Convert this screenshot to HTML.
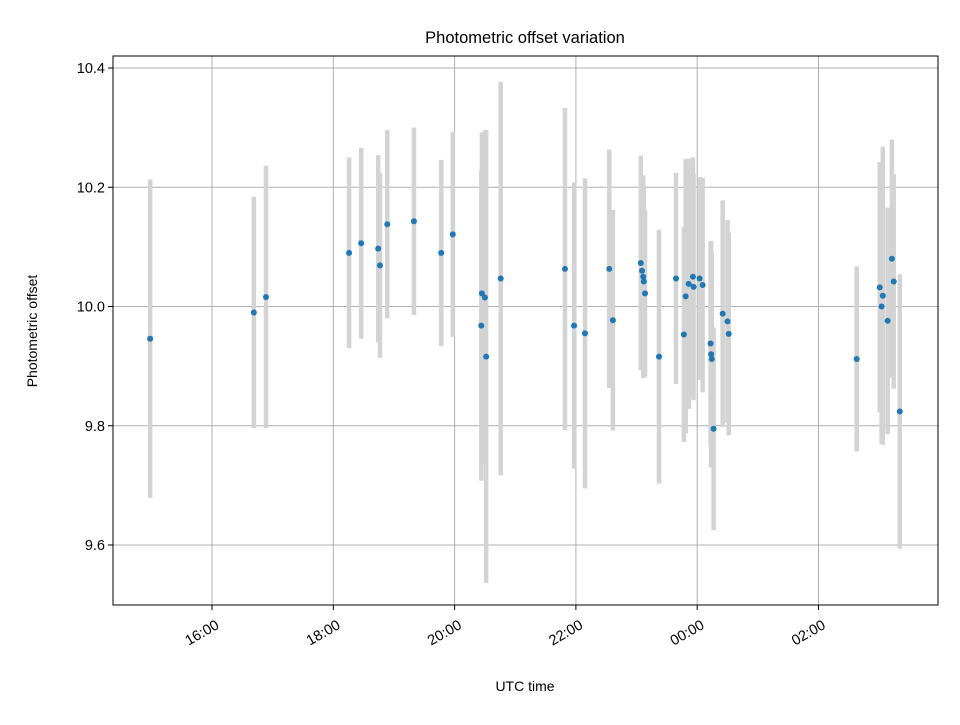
<!DOCTYPE html>
<html><head><meta charset="utf-8"><style>
body{margin:0;background:#fff}
svg text{font-family:"Liberation Sans","DejaVu Sans",sans-serif}
</style></head><body>
<svg id="chart" width="960" height="720" xmlns="http://www.w3.org/2000/svg">
<rect width="960" height="720" fill="#fff"/>
<g id="grid"></g><g id="bars"></g><g id="pts"></g><g id="axes"></g>
<text x="525" y="43" font-size="16.5" text-anchor="middle">Photometric offset variation</text>
<text x="525" y="691" font-size="14" text-anchor="middle">UTC time</text>
<text transform="translate(37,331) rotate(-90)" font-size="14" text-anchor="middle">Photometric offset</text>
</svg>
<script>
// hours (after midnight as 24+)
const times=[14.98,16.69,16.89,18.26,18.46,18.74,18.77,18.89,19.33,19.78,19.97,20.44,20.45,20.50,20.52,20.76,21.82,21.97,22.15,22.55,22.61,23.07,23.09,23.11,23.12,23.14,23.37,23.65,23.78,23.81,23.86,23.93,23.94,24.04,24.09,24.22,24.23,24.24,24.27,24.42,24.50,24.52,26.63,27.01,27.04,27.06,27.14,27.21,27.24,27.34];
const offsets=[9.946,9.99,10.016,10.09,10.106,10.097,10.069,10.138,10.143,10.09,10.121,9.968,10.022,10.015,9.916,10.047,10.063,9.968,9.955,10.063,9.977,10.073,10.06,10.05,10.042,10.022,9.916,10.047,9.953,10.017,10.038,10.05,10.033,10.047,10.036,9.938,9.92,9.912,9.795,9.988,9.975,9.954,9.912,10.032,10.0,10.018,9.976,10.08,10.042,9.824];
const errors=[0.267,0.194,0.22,0.16,0.16,0.157,0.155,0.158,0.157,0.156,0.172,0.26,0.27,0.28,0.38,0.33,0.27,0.24,0.26,0.2,0.185,0.18,0.16,0.17,0.16,0.14,0.213,0.177,0.18,0.23,0.21,0.2,0.19,0.17,0.18,0.17,0.19,0.18,0.17,0.19,0.17,0.17,0.155,0.21,0.23,0.25,0.19,0.2,0.18,0.23];
const xTicks=[16,18,20,22,24,26];
const xLabels=["16:00","18:00","20:00","22:00","00:00","02:00"];
const yTicks=[9.6,9.8,10.0,10.2,10.4];
const yLabels=["9.6","9.8","10.0","10.2","10.4"];
const L=113,R=938,T=56,B=605;
const xs=h=>212+(h-16)*60.65;
const ys=v=>306.5-(v-10)*596.25;
const NS="http://www.w3.org/2000/svg";
function mk(p,t,a){const e=document.createElementNS(NS,t);for(const k in a)e.setAttribute(k,a[k]);document.getElementById(p).appendChild(e);return e;}
xTicks.forEach((t,i)=>{const x=xs(t);
 const g=mk('grid','line',{x1:x,x2:x,y1:T,y2:B,stroke:'#b0b0b0','stroke-width':1});
 
 
 const tk=mk('axes','line',{x1:x,x2:x,y1:B,y2:B+5,stroke:'#000'});
 
 
 const ax=x+3, ay=B+14;
 const tx=mk('axes','text',{x:ax,y:ay+10,'font-size':14.5,'text-anchor':'end',transform:`rotate(-30 ${ax} ${ay})`});
 tx.textContent=xLabels[i];
 
 
});
yTicks.forEach((t,i)=>{const y=ys(t);
 const g=mk('grid','line',{x1:L,x2:R,y1:y,y2:y,stroke:'#b0b0b0','stroke-width':1});
 
 
 const tk=mk('axes','line',{x1:L-5,x2:L,y1:y,y2:y,stroke:'#000'});
 
 
 const tx=mk('axes','text',{x:L-8,y:y+5,'font-size':14.5,'text-anchor':'end'});
 tx.textContent=yLabels[i];
 
 
});
const fr=mk('axes','rect',{x:L,y:T,width:R-L,height:B-T,fill:'none',stroke:'#000'});


times.forEach((t,i)=>{const x=xs(t);
 const b=mk('bars','line',{x1:x,x2:x,y1:ys(offsets[i]+errors[i]),y2:ys(offsets[i]-errors[i]),stroke:'#d3d3d3','stroke-width':4.5});
 
 
 const c=mk('pts','circle',{cx:x,cy:ys(offsets[i]),r:3,fill:'#1f77b4'});
 
 
});
</script>
</body></html>
